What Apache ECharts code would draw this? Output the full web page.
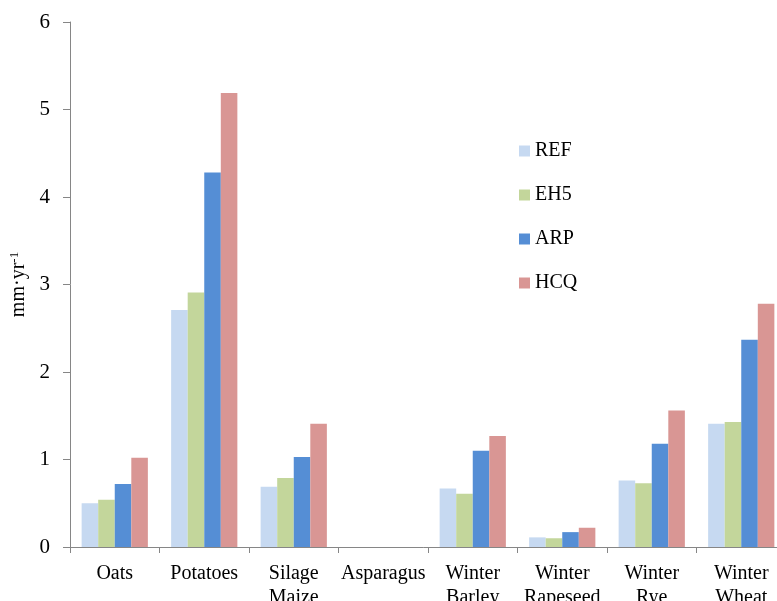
<!DOCTYPE html>
<html>
<head>
<meta charset="utf-8">
<script src="https://cdn.jsdelivr.net/npm/echarts@6/dist/echarts.min.js"></script>
<style>
  html, body { margin: 0; padding: 0; background: #fff; }
  #chart { width: 777px; height: 601px; }
</style>
</head>
<body>
<div id="chart"></div>
<script>
const crops = ['Oats', 'Potatoes', 'Silage\nMaize', 'Asparagus', 'Winter\nBarley', 'Winter\nRapeseed', 'Winter\nRye', 'Winter\nWheat'];
const refVals = [0.50, 2.71, 0.69, 0, 0.67, 0.11, 0.76, 1.41];
const eh5Vals = [0.54, 2.91, 0.79, 0, 0.61, 0.10, 0.73, 1.43];
const arpVals = [0.72, 4.28, 1.03, 0, 1.10, 0.17, 1.18, 2.37];
const hcqVals = [1.02, 5.19, 1.41, 0, 1.27, 0.22, 1.56, 2.78];
const yTicks = [0, 1, 2, 3, 4, 5, 6];

const serif = '"Liberation Serif", "DejaVu Serif", serif';
const axisGrey = '#868686';

const chart = echarts.init(document.getElementById('chart'));

function bar(name, data, color) {
    return {
        name: name,
        type: 'bar',
        data: data,
        barGap: '0%',
        barCategoryGap: '26%',
        itemStyle: {color: color},
        silent: true
    };
}

chart.setOption({
    animation: false,
    backgroundColor: '#ffffff',
    grid: {left: 70, right: -9, top: 22, bottom: 54, containLabel: false, outerBoundsMode: 'none'},
    legend: {
        orient: 'vertical',
        left: 514,
        top: 136,
        itemWidth: 11,
        itemHeight: 11,
        itemGap: 24,
        icon: 'rect',
        textStyle: {fontFamily: serif, fontSize: 20, color: '#000'},
        data: ['REF', 'EH5', 'ARP', 'HCQ']
    },
    xAxis: {
        type: 'category',
        data: crops,
        axisLine: {lineStyle: {color: axisGrey, width: 1}},
        axisTick: {show: true, length: 6, alignWithLabel: false, lineStyle: {color: axisGrey}},
        axisLabel: {
            interval: 0,
            margin: 15,
            fontFamily: serif,
            fontSize: 20,
            lineHeight: 24,
            color: '#000'
        }
    },
    yAxis: {
        type: 'value',
        min: 0,
        max: 6,
        interval: 1,
        name: '{a|mm·yr}{s|-1}',
        nameLocation: 'middle',
        nameGap: 31,
        nameRotate: 90,
        nameTextStyle: {
            rich: {
                a: {fontFamily: serif, fontSize: 20, color: '#000'},
                s: {fontFamily: serif, fontSize: 13, color: '#000', verticalAlign: 'top', padding: [0, 0, 9, 0]}
            }
        },
        axisLine: {show: true, lineStyle: {color: axisGrey, width: 1}},
        axisTick: {show: true, length: 7, lineStyle: {color: axisGrey}},
        splitLine: {show: false},
        axisLabel: {
            margin: 20,
            fontFamily: serif,
            fontSize: 21,
            color: '#000',
            formatter: function (v) { return yTicks.indexOf(v) >= 0 ? String(v) : ''; }
        }
    },
    series: [
        bar('REF', refVals, '#c6d9f1'),
        bar('EH5', eh5Vals, '#c3d69b'),
        bar('ARP', arpVals, '#558ed5'),
        bar('HCQ', hcqVals, '#d99694')
    ]
});
</script>
</body>
</html>
